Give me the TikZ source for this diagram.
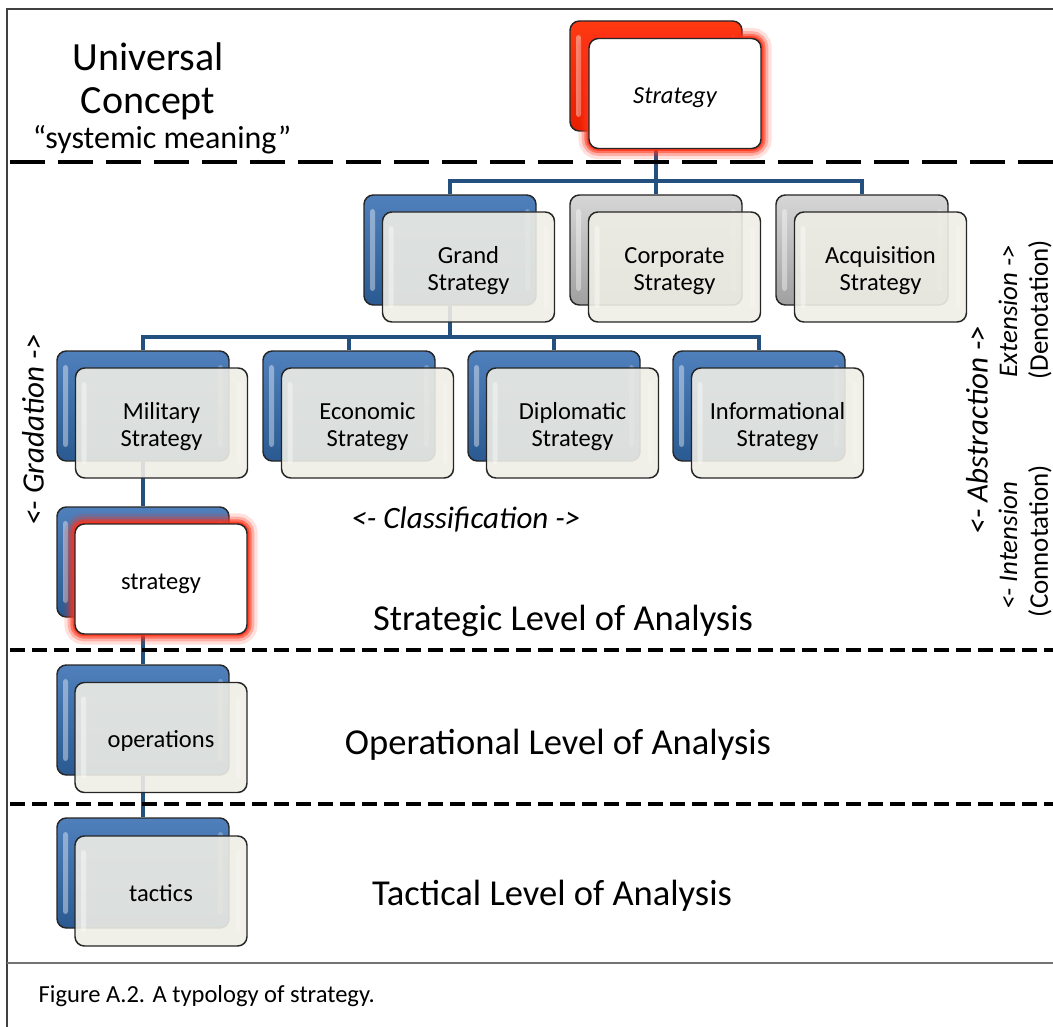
\documentclass[tikz,border=0pt]{standalone}
\usepackage{fontspec}
\setmainfont{Carlito}
\usetikzlibrary{backgrounds}

\definecolor{linkblue}{HTML}{23507F}
\definecolor{bluetop}{HTML}{4F80BC}
\definecolor{bluebot}{HTML}{2A5A91}
\definecolor{greytop}{HTML}{D6D6D6}
\definecolor{greybot}{HTML}{A0A0A0}
\definecolor{redtop}{HTML}{FF3A12}
\definecolor{redbot}{HTML}{E81E00}
\definecolor{frontfill}{HTML}{EEEDE5}
\definecolor{glowred}{HTML}{FF3218}

% box text, set a little below the middle
\newcommand{\cardtext}[1]{\raisebox{0pt}[\dimexpr\height+7.5pt\relax][\depth]{\begin{tabular}{@{}c@{}}#1\end{tabular}}}

\begin{document}
\begin{tikzpicture}[
        x=0.75pt, y=-0.75pt,
        gloss/.style={path picture={
            \fill[white, opacity=.4, rounded corners=2pt]
              ([shift={(6,14)}]path picture bounding box.north west) rectangle
              ([shift={(11,-14)}]path picture bounding box.south west);
            \fill[white, opacity=.25, rounded corners=2pt]
              ([shift={(-11,14)}]path picture bounding box.north east) rectangle
              ([shift={(-6,-14)}]path picture bounding box.south east);}},
        card/.style={rectangle, rounded corners=7pt, draw=black!85, line width=1.1pt,
            minimum width=129pt, minimum height=82.5pt, inner sep=0pt, gloss},
        backblue/.style={card, top color=bluetop, bottom color=bluebot},
        backgrey/.style={card, top color=greytop, bottom color=greybot},
        backred/.style={card, top color=redtop, bottom color=redbot},
        front/.style={card, fill=frontfill, fill opacity=.9, text opacity=1,
            font=\fontsize{18.4}{20.3}\selectfont},
        glow/.style={preaction={draw=glowred, draw opacity=.15, line width=16pt},
            preaction={draw=glowred, draw opacity=.28, line width=11pt},
            preaction={draw=glowred, draw opacity=.5, line width=7pt},
            preaction={draw=glowred, draw opacity=.8, line width=3.5pt}},
        hot/.style={front, fill=white, fill opacity=1, glow},
        link/.style={draw=linkblue, line width=2.6pt},
        frame/.style={draw=black!75, line width=1.2pt},
        bigdash/.style={draw=black, line width=3pt, dash pattern=on 26pt off 10pt},
        smalldash/.style={draw=black, line width=2.6pt, dash pattern=on 11pt off 5.5pt},
        lvltext/.style={font=\fontsize{27.4}{30}\selectfont},
        ital/.style={font=\fontsize{23.3}{26}\selectfont\itshape},
        smallital/.style={font=\fontsize{20.2}{22}\selectfont\itshape},
        sidetext/.style={font=\fontsize{20.2}{22}\selectfont}
    ]
    \useasboundingbox (0,0) rectangle (1053,1027);

    % Frame and level separators
    \draw[frame] (1053,9) -- (7,9) -- (7,1027);
    \draw[draw=black!55, line width=.8pt] (7,963) -- (1053,963);
    \draw[bigdash] (10,162) -- (1053,162);
    \draw[smalldash] (10,650) -- (1053,650);
    \draw[smalldash] (10,804) -- (1053,804);

    % Universal concept
    \node[backred] (stratb) at (656,76) {};
    \node[hot, font=\fontsize{18.4}{20.3}\selectfont\itshape] (stratf) at ([shift={(19,17.5)}]stratb) {\cardtext{Strategy}};

    % Second row
    \node[backblue] (grandb) at (450,250) {};
    \node[front] (grandf) at ([shift={(18.5,17)}]grandb) {\cardtext{Grand\\Strategy}};
    \node[backgrey] (corpb) at (656,250) {};
    \node[front] (corpf) at ([shift={(18.5,17)}]corpb) {\cardtext{Corporate\\Strategy}};
    \node[backgrey] (acqb) at (862,250) {};
    \node[front] (acqf) at ([shift={(18.5,17)}]acqb) {\cardtext{Acquisition\\Strategy}};

    % Third row
    \node[backblue] (milb) at (143,406) {};
    \node[front] (milf) at ([shift={(18.5,17)}]milb) {\cardtext{Military\\Strategy}};
    \node[backblue] (econb) at (349,406) {};
    \node[front] (econf) at ([shift={(18.5,17)}]econb) {\cardtext{Economic\\Strategy}};
    \node[backblue] (diplb) at (554,406) {};
    \node[front] (diplf) at ([shift={(18.5,17)}]diplb) {\cardtext{Diplomatic\\Strategy}};
    \node[backblue] (infob) at (759,406) {};
    \node[front] (infof) at ([shift={(18.5,17)}]infob) {\cardtext{Informational\\Strategy}};

    % Levels of analysis
    \node[backblue] (lowb) at (143,562) {};
    \node[hot] (lowf) at ([shift={(18,17)}]lowb) {\cardtext{strategy}};
    \node[backblue] (opb) at (143,720) {};
    \node[front] (opf) at ([shift={(18,17.5)}]opb) {\cardtext{operations}};
    \node[backblue] (tacb) at (143,873) {};
    \node[front] (tacf) at ([shift={(18,18)}]tacb) {\cardtext{tactics}};

    % Connectors
    \coordinate (bus1) at (656,181);
    \coordinate (bus2) at (450,337);
    \begin{scope}[on background layer]
        \draw[link, line width=3pt] (stratb.south) -- (bus1);
        \draw[link] (bus1) -| (grandb.north);
        \draw[link] (bus1) -- (corpb.north);
        \draw[link] (bus1) -| (acqb.north);
        \draw[link] (grandb.south) -- (bus2);
        \draw[link] (bus2) -| (milb.north);
        \draw[link] (bus2) -| (econb.north);
        \draw[link] (bus2) -| (diplb.north);
        \draw[link] (bus2) -| (infob.north);
        \draw[link] (milb.south) -- (lowb.north);
        \draw[link] (lowb.south) -- (opb.north);
        \draw[link] (opb.south) -- (tacb.north);
    \end{scope}

    % Labels
    \node[font=\fontsize{30}{32.25}\selectfont, align=center] (univ) at (148,81) {Universal\\Concept};
    \node[font=\fontsize{24}{26}\selectfont] (sysm) at (162,140) {``systemic meaning''};
    \node[ital] (classlbl) at (466,520) {<- Classification ->};
    \node[ital, rotate=90] (gradlbl) at (33,430) {<- Gradation ->};
    \node[ital, rotate=90] (abstrlbl) at (977,430) {<- Abstraction ->};
    \node[smallital, rotate=90] (extlbl) at (1008,311) {Extension ->};
    \node[sidetext, rotate=90] (denlbl) at (1040,310) {(Denotation)};
    \node[smallital, rotate=90] (intlbl) at (1008,546) {<- Intension};
    \node[sidetext, rotate=90] (conlbl) at (1040,541) {(Connotation)};
    \node[lvltext] (stratlvl) at (563,621) {Strategic Level of Analysis};
    \node[lvltext] (oplvl) at (558,745) {Operational Level of Analysis};
    \node[lvltext] (taclvl) at (552,896) {Tactical Level of Analysis};

    % Caption
    \node[anchor=west, font=\fontsize{18.4}{20}\selectfont] (caption) at (34,996) {Figure A.2. A typology of strategy.};
\end{tikzpicture}
\end{document}
